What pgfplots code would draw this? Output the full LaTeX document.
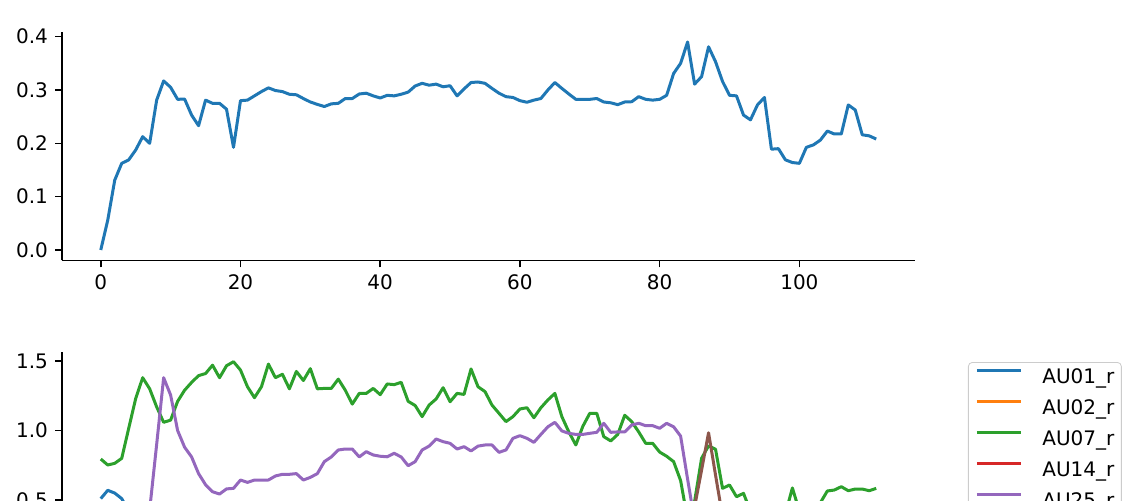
\documentclass[border=0pt]{standalone}
\usepackage{fontspec}
\setmainfont{DejaVu Sans}
\usepackage{pgfplots}
\pgfplotsset{compat=1.18}
\definecolor{c0}{HTML}{1F77B4}
\definecolor{c1}{HTML}{FF7F0E}
\definecolor{c2}{HTML}{2CA02C}
\definecolor{c3}{HTML}{D62728}
\definecolor{c4}{HTML}{9467BD}
\definecolor{c5}{HTML}{8C564B}
\pgfplotsset{
  mplstyle/.style={
    scale only axis,
    width=426.5pt,
    xmin=-5.55, xmax=116.55,
    axis x line*=bottom, axis y line*=left,
    x axis line style={-, line width=0.8pt},
    y axis line style={-, line width=0.8pt},
    tick align=outside,
    major tick length=3.5pt,
    tick style={line width=0.8pt, black},
    xtick={0,20,40,60,80,100},
    ticklabel style={font=\fontsize{10}{12}\selectfont, black},
    /pgf/number format/assume math mode=true,
    every axis plot/.append style={line width=1.5pt, line join=round, no markers},
  }
}
\begin{document}
\begin{tikzpicture}
\useasboundingbox (0,0) rectangle (568pt,250.5pt);
\clip (0,0) rectangle (568pt,250.5pt);
\begin{pgfinterruptboundingbox}
\begin{axis}[mplstyle, at={(31pt,120.3pt)}, anchor=south west,
  height=114.4pt, ymin=-0.0195, ymax=0.4095,
  ytick={0,0.1,0.2,0.3,0.4},
  yticklabel style={/pgf/number format/.cd, fixed, fixed zerofill, precision=1},
]
\addplot[c0] coordinates {
(0,0.000) (1,0.056) (2,0.131) (3,0.1625) (4,0.169) (5,0.1875) (6,0.2125) (7,0.200) (8,0.281) (9,0.317)
(10,0.305) (11,0.2825) (12,0.283) (13,0.253) (14,0.233) (15,0.281) (16,0.275) (17,0.275) (18,0.264) (19,0.1925)
(20,0.280) (21,0.281) (22,0.289) (23,0.297) (24,0.304) (25,0.299) (26,0.297) (27,0.292) (28,0.291) (29,0.284)
(30,0.2775) (31,0.273) (32,0.269) (33,0.274) (34,0.275) (35,0.284) (36,0.284) (37,0.2925) (38,0.294) (39,0.289)
(40,0.285) (41,0.290) (42,0.289) (43,0.292) (44,0.296) (45,0.3075) (46,0.3125) (47,0.309) (48,0.311) (49,0.306)
(50,0.308) (51,0.289) (52,0.302) (53,0.314) (54,0.315) (55,0.3125) (56,0.303) (57,0.294) (58,0.2875) (59,0.286)
(60,0.280) (61,0.277) (62,0.281) (63,0.284) (64,0.300) (65,0.314) (66,0.303) (67,0.2925) (68,0.2825) (69,0.2825)
(70,0.2825) (71,0.284) (72,0.2775) (73,0.276) (74,0.2725) (75,0.2775) (76,0.278) (77,0.2875) (78,0.2825) (79,0.281)
(80,0.2825) (81,0.290) (82,0.331) (83,0.350) (84,0.390) (85,0.311) (86,0.325) (87,0.381) (88,0.353) (89,0.316)
(90,0.290) (91,0.289) (92,0.253) (93,0.244) (94,0.272) (95,0.286) (96,0.189) (97,0.190) (98,0.169) (99,0.164)
(100,0.1625) (101,0.1925) (102,0.197) (103,0.206) (104,0.223) (105,0.2175) (106,0.2175) (107,0.272) (108,0.2625) (109,0.216)
(110,0.214) (111,0.208)
};
\end{axis}
\begin{axis}[mplstyle, at={(31pt,74.5pt)}, anchor=north west,
  height=113.98pt, ymin=-0.075, ymax=1.565,
  ytick={0.5,1.0,1.5},
  xticklabels={},
  yticklabel style={/pgf/number format/.cd, fixed, fixed zerofill, precision=1},
  legend cell align=left,
  legend style={at={(rel axis cs:1.0621,0.956)}, anchor=north west,
    draw=black!20, rounded corners=2pt, fill=white,
    font=\fontsize{10}{12}\selectfont,
    inner xsep=3.5pt, inner ysep=3pt,
    row sep=6pt,
    nodes={inner sep=0pt, text height=7.5pt, text depth=2pt},
    /tikz/every odd column/.append style={column sep=10pt},
  },
  legend image code/.code={\draw[line width=1.5pt] (0pt,3.6pt) -- (22pt,3.6pt);},
]
\addplot[c0] coordinates {
(0,0.51) (1,0.57) (2,0.55) (3,0.51) (4,0.42) (5,0.35) (10,0.30) (20,0.28) (30,0.30) (40,0.27)
(50,0.29) (60,0.26) (70,0.28) (80,0.25) (90,0.20) (100,0.22) (111,0.21)
};
\addlegendentry{AU01\_r}
\addplot[c1] coordinates {
(0,0.20) (10,0.18) (20,0.22) (30,0.20) (40,0.19) (50,0.21) (60,0.20) (70,0.22) (80,0.20) (90,0.15) (100,0.17) (111,0.16)
};
\addlegendentry{AU02\_r}
\addplot[c2] coordinates {
(0,0.795) (1,0.752) (2,0.764) (3,0.800) (4,1.016) (5,1.230) (6,1.380) (7,1.300) (8,1.170) (9,1.059)
(10,1.075) (11,1.210) (12,1.290) (13,1.346) (14,1.395) (15,1.410) (16,1.470) (17,1.380) (18,1.466) (19,1.495)
(20,1.435) (21,1.315) (22,1.236) (23,1.315) (24,1.478) (25,1.380) (26,1.405) (27,1.300) (28,1.425) (29,1.360)
(30,1.445) (31,1.300) (32,1.303) (33,1.303) (34,1.370) (35,1.290) (36,1.190) (37,1.267) (38,1.267) (39,1.303)
(40,1.258) (41,1.335) (42,1.330) (43,1.347) (44,1.210) (45,1.180) (46,1.100) (47,1.183) (48,1.227) (49,1.308)
(50,1.207) (51,1.267) (52,1.260) (53,1.443) (54,1.315) (55,1.280) (56,1.183) (57,1.124) (58,1.064) (59,1.100)
(60,1.155) (61,1.164) (62,1.092) (63,1.164) (64,1.220) (65,1.267) (66,1.100) (67,0.990) (68,0.896) (69,1.030)
(70,1.124) (71,1.124) (72,0.956) (73,0.925) (74,0.972) (75,1.110) (76,1.064) (77,0.990) (78,0.908) (79,0.908)
(80,0.845) (81,0.815) (82,0.776) (83,0.640) (84,0.360) (85,0.490) (86,0.800) (87,0.890) (88,0.865) (89,0.584)
(90,0.608) (91,0.524) (92,0.548) (93,0.42) (94,0.35) (95,0.30) (96,0.33) (97,0.36) (98,0.40) (99,0.587)
(100,0.42) (101,0.36) (102,0.40) (103,0.48) (104,0.565) (105,0.572) (106,0.596) (107,0.567) (108,0.579) (109,0.579)
(110,0.567) (111,0.584)
};
\addlegendentry{AU07\_r}
\addplot[c3] coordinates {
(0,0.10) (10,0.12) (20,0.10) (30,0.11) (40,0.10) (50,0.12) (60,0.10) (70,0.11) (80,0.10) (85,0.12) (87,0.40) (89,0.12) (100,0.10) (111,0.10)
};
\addlegendentry{AU14\_r}
\addplot[c4] coordinates {
(0,0.15) (1,0.18) (2,0.20) (3,0.22) (4,0.20) (5,0.18) (6,0.20) (7,0.43) (8,0.90) (9,1.38)
(10,1.255) (11,1.00) (12,0.88) (13,0.81) (14,0.69) (15,0.61) (16,0.56) (17,0.543) (18,0.58) (19,0.584)
(20,0.644) (21,0.627) (22,0.644) (23,0.644) (24,0.644) (25,0.673) (26,0.685) (27,0.685) (28,0.690) (29,0.644)
(30,0.663) (31,0.690) (32,0.776) (33,0.810) (34,0.860) (35,0.867) (36,0.867) (37,0.810) (38,0.848) (39,0.824)
(40,0.815) (41,0.811) (42,0.836) (43,0.810) (44,0.747) (45,0.776) (46,0.860) (47,0.888) (48,0.939) (49,0.920)
(50,0.908) (51,0.867) (52,0.884) (53,0.853) (54,0.888) (55,0.896) (56,0.896) (57,0.843) (58,0.860) (59,0.944)
(60,0.963) (61,0.944) (62,0.915) (63,0.972) (64,1.027) (65,1.059) (66,0.997) (67,0.980) (68,0.972) (69,0.972)
(70,0.980) (71,0.987) (72,1.052) (73,0.987) (74,0.990) (75,0.990) (76,1.040) (77,1.052) (78,1.035) (79,1.035)
(80,1.016) (81,1.052) (82,1.027) (83,0.960) (84,0.650) (85,0.350) (86,0.25) (90,0.20) (100,0.22) (111,0.20)
};
\addlegendentry{AU25\_r}
\addplot[c5, forget plot] coordinates {
(0,0.10) (20,0.12) (40,0.10) (60,0.11) (84,0.12) (85,0.45) (86,0.715) (87,0.984) (88,0.68) (89,0.38) (90,0.12) (100,0.10) (111,0.10)
};
\end{axis}
\end{pgfinterruptboundingbox}
\end{tikzpicture}
\end{document}
